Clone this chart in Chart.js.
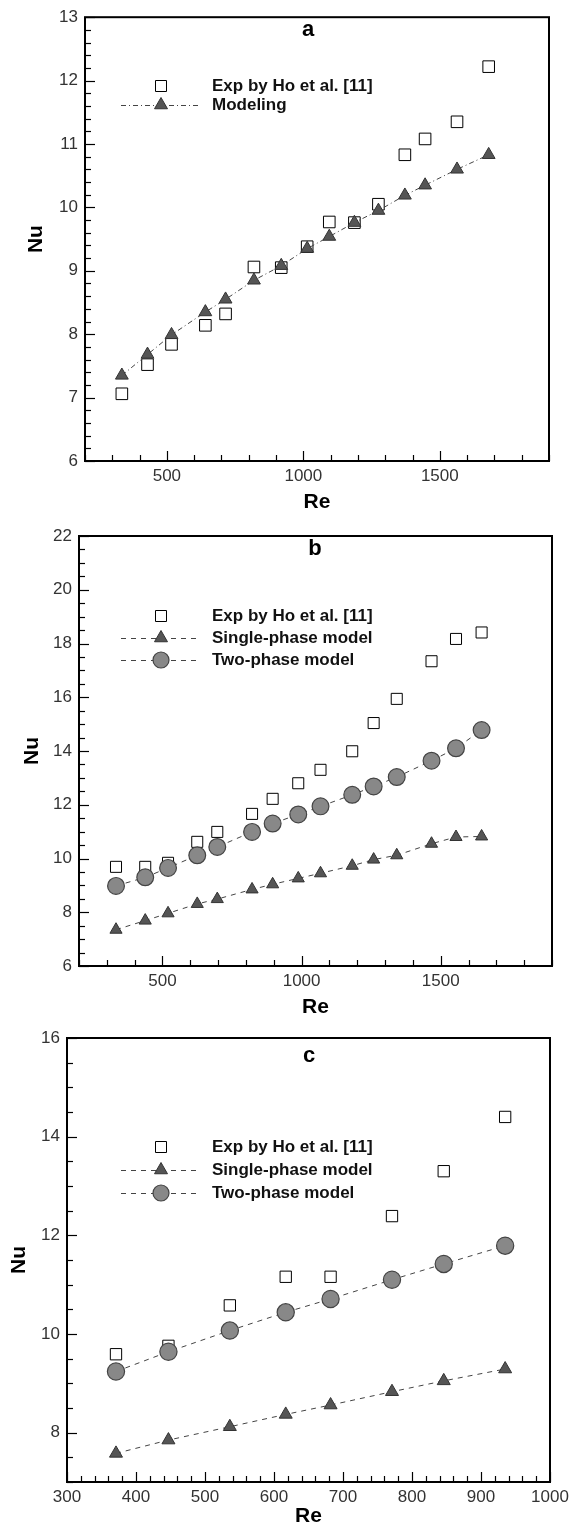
<!DOCTYPE html>
<html>
<head>
<meta charset="utf-8">
<script src="https://cdn.jsdelivr.net/npm/chart.js@4.4.0/dist/chart.umd.min.js"></script>
<style>
  html, body { margin: 0; padding: 0; background: #fff; }
  #wrap { position: relative; width: 576px; height: 1529px; overflow: hidden; }
  canvas { position: absolute; left: 0; }
</style>
</head>
<body>
<div id="wrap">
  <canvas id="chartA" width="576" height="515" style="top:0px"></canvas>
  <canvas id="chartB" width="576" height="505" style="top:515px"></canvas>
  <canvas id="chartC" width="576" height="509" style="top:1020px"></canvas>
</div>
<script>
// panel a
const reA = [335, 429, 517, 641, 715, 819, 919, 1014, 1095, 1187, 1275, 1372, 1446, 1563, 1679];
const nuExpA = [7.06, 7.52, 7.84, 8.14, 8.32, 9.06, 9.05, 9.38, 9.77, 9.76, 10.05, 10.83, 11.08, 11.35, 12.22];
const nuModelA = [7.35, 7.68, 7.99, 8.35, 8.55, 8.85, 9.08, 9.35, 9.54, 9.76, 9.95, 10.19, 10.35, 10.60, 10.83];

// panel b
const reB = [333, 438, 520, 625, 697, 822, 896, 988, 1068, 1182, 1259, 1342, 1467, 1555, 1647];
const nuExpB = [9.69, 9.69, 9.84, 10.62, 10.99, 11.66, 12.22, 12.80, 13.30, 13.99, 15.04, 15.94, 17.34, 18.17, 18.41];
const nuSingleB = [7.35, 7.69, 7.96, 8.31, 8.49, 8.85, 9.04, 9.26, 9.45, 9.73, 9.96, 10.12, 10.55, 10.80, 10.82];
const nuTwoB = [8.98, 9.30, 9.65, 10.12, 10.43, 10.99, 11.30, 11.64, 11.94, 12.37, 12.68, 13.03, 13.64, 14.10, 14.78];

// panel c
const reC = [371, 447, 536, 617, 682, 771, 846, 935];
const nuExpC = [9.59, 9.76, 10.58, 11.16, 11.16, 12.39, 13.30, 14.40];
const nuSingleC = [7.58, 7.85, 8.12, 8.37, 8.56, 8.83, 9.05, 9.29];
const nuTwoC = [9.24, 9.64, 10.07, 10.44, 10.71, 11.10, 11.42, 11.79];

const labelExp = 'Exp by Ho et al. [11]';
const labelModel = 'Modeling';
const labelSingle = 'Single-phase model';
const labelTwo = 'Two-phase model';

const FONT = "'Liberation Sans', Arial, sans-serif";
const DASH_DOT = [5, 3, 1, 3];
const DASHED = [5, 5];

function pts(xs, ys) {
  return xs.map((x, i) => ({ x: x, y: ys[i] }));
}

function isMajor(v, m) {
  return Math.abs(v / m - Math.round(v / m)) < 1e-6;
}

// square / triangle / circle marker styles
const styleExp = { pointStyle: 'rect', pointBackgroundColor: '#fff', pointBorderColor: '#000', pointBorderWidth: 1, showLine: false };
const styleTri = { pointStyle: 'triangle', pointBackgroundColor: '#555', pointBorderColor: '#333', pointBorderWidth: 1, showLine: true, borderColor: '#444', borderWidth: 1 };
const styleCirc = { pointStyle: 'circle', pointBackgroundColor: '#888', pointBorderColor: '#444', pointBorderWidth: 1.2, showLine: true, borderColor: '#444', borderWidth: 1 };

function drawMarker(ctx, kind, x, y, r) {
  ctx.save();
  ctx.setLineDash([]);
  ctx.beginPath();
  if (kind === 'rect') {
    ctx.rect(x - r, y - r, 2 * r, 2 * r);
    ctx.fillStyle = '#fff'; ctx.strokeStyle = '#000'; ctx.lineWidth = 1;
  } else if (kind === 'triangle') {
    ctx.moveTo(x, y - r);
    ctx.lineTo(x + r * 0.866, y + r / 2);
    ctx.lineTo(x - r * 0.866, y + r / 2);
    ctx.closePath();
    ctx.fillStyle = '#555'; ctx.strokeStyle = '#333'; ctx.lineWidth = 1;
  } else {
    ctx.arc(x, y, r, 0, Math.PI * 2);
    ctx.fillStyle = '#888'; ctx.strokeStyle = '#444'; ctx.lineWidth = 1.2;
  }
  ctx.fill();
  ctx.stroke();
  ctx.restore();
}

// frame, inward ticks, panel letter and legend
const decor = {
  id: 'decor',
  afterDraw(chart, args, opts) {
    const ctx = chart.ctx, a = chart.chartArea;
    const xs = chart.scales.x, ys = chart.scales.y;
    ctx.save();
    ctx.strokeStyle = '#000';
    ctx.lineWidth = 1.2;
    xs.ticks.forEach(t => {
      const px = Math.round(xs.getPixelForValue(t.value)) + 0.5;
      const len = t.label ? 10 : 6;
      ctx.beginPath(); ctx.moveTo(px, a.bottom); ctx.lineTo(px, a.bottom - len); ctx.stroke();
    });
    ys.ticks.forEach(t => {
      const py = Math.round(ys.getPixelForValue(t.value)) + 0.5;
      const len = t.label ? 10 : 6;
      ctx.beginPath(); ctx.moveTo(a.left, py); ctx.lineTo(a.left + len, py); ctx.stroke();
    });
    ctx.lineWidth = 2;
    ctx.strokeRect(a.left, a.top, a.right - a.left, a.bottom - a.top);

    ctx.fillStyle = '#000';
    ctx.font = 'bold 22px ' + FONT;
    ctx.textAlign = 'center';
    ctx.textBaseline = 'middle';
    ctx.fillText(opts.letter, opts.letterX, opts.letterY);

    ctx.font = 'bold 17px ' + FONT;
    ctx.textAlign = 'left';
    opts.items.forEach((it, i) => {
      const y = opts.rows[i];
      if (it.dash) {
        ctx.save();
        ctx.strokeStyle = '#444';
        ctx.lineWidth = 1;
        ctx.setLineDash(it.dash);
        ctx.beginPath(); ctx.moveTo(121, y + 0.5); ctx.lineTo(198, y + 0.5); ctx.stroke();
        ctx.restore();
      }
      drawMarker(ctx, it.marker, 161, y, it.size);
      ctx.fillStyle = '#111';
      ctx.fillText(it.label, 212, y);
    });
    ctx.restore();
  }
};

function makePanel(id, p) {
  new Chart(document.getElementById(id), {
    type: 'scatter',
    data: { datasets: p.datasets },
    options: {
      responsive: false,
      animation: false,
      events: [],
      layout: { padding: { top: p.top, right: p.right, left: 0, bottom: 0 } },
      plugins: {
        legend: { display: false },
        tooltip: { enabled: false },
        decor: p.decor
      },
      scales: {
        x: {
          type: 'linear', min: p.xMin, max: p.xMax,
          grid: { display: false, drawTicks: false },
          border: { display: false },
          ticks: {
            stepSize: p.xStep, autoSkip: false, maxRotation: 0, padding: 5, color: '#333',
            font: { family: FONT, size: 17 },
            callback: v => isMajor(v, p.xMajor) ? String(Math.round(v)) : ''
          },
          title: { display: true, text: 'Re', color: '#000', font: { family: FONT, size: 21, weight: 'bold' }, padding: { top: p.xTitlePad, bottom: 0 } },
          afterFit: s => { s.height = p.xHeight; }
        },
        y: {
          type: 'linear', min: p.yMin, max: p.yMax,
          grid: { display: false, drawTicks: false },
          border: { display: false },
          ticks: {
            stepSize: p.yStep, autoSkip: false, padding: 7, color: '#333',
            font: { family: FONT, size: 17 },
            callback: v => isMajor(v, p.yMajor) ? String(Math.round(v)) : ''
          },
          title: { display: true, text: 'Nu', color: '#000', font: { family: FONT, size: 21, weight: 'bold' }, padding: { top: p.yTitlePad, bottom: 0 } },
          afterFit: s => { s.width = p.yWidth; }
        }
      }
    },
    plugins: [decor]
  });
}

makePanel('chartA', {
  top: 11, right: 27, xHeight: 54, yWidth: 85, xTitlePad: 4, yTitlePad: 24,
  xMin: 200, xMax: 1900, xStep: 100, xMajor: 500,
  yMin: 6, yMax: 13, yStep: 0.2, yMajor: 1,
  datasets: [
    Object.assign({ label: labelModel, data: pts(reA, nuModelA), pointRadius: 7.4, borderDash: DASH_DOT }, styleTri),
    Object.assign({ label: labelExp, data: pts(reA, nuExpA), pointRadius: 8.2 }, styleExp)
  ],
  decor: {
    letter: 'a', letterX: 308, letterY: 30, rows: [86, 105],
    items: [
      { label: labelExp, marker: 'rect', size: 5.5 },
      { label: labelModel, marker: 'triangle', size: 7.5, dash: DASH_DOT }
    ]
  }
});

makePanel('chartB', {
  top: 21, right: 24, xHeight: 54, yWidth: 79, xTitlePad: 8, yTitlePad: 20,
  xMin: 200, xMax: 1900, xStep: 100, xMajor: 500,
  yMin: 6, yMax: 22, yStep: 0.5, yMajor: 2,
  datasets: [
    Object.assign({ label: labelTwo, data: pts(reB, nuTwoB), pointRadius: 8.4, borderDash: DASHED }, styleCirc),
    Object.assign({ label: labelSingle, data: pts(reB, nuSingleB), pointRadius: 7, borderDash: DASHED }, styleTri),
    Object.assign({ label: labelExp, data: pts(reB, nuExpB), pointRadius: 7.8 }, styleExp)
  ],
  decor: {
    letter: 'b', letterX: 315, letterY: 34, rows: [101, 123, 145],
    items: [
      { label: labelExp, marker: 'rect', size: 5.5 },
      { label: labelSingle, marker: 'triangle', size: 7.5, dash: DASHED },
      { label: labelTwo, marker: 'circle', size: 8, dash: DASHED }
    ]
  }
});

makePanel('chartC', {
  top: 18, right: 26, xHeight: 47, yWidth: 67, xTitlePad: 0, yTitlePad: 7,
  xMin: 300, xMax: 1000, xStep: 20, xMajor: 100,
  yMin: 7, yMax: 16, yStep: 0.5, yMajor: 2,
  datasets: [
    Object.assign({ label: labelTwo, data: pts(reC, nuTwoC), pointRadius: 8.6, borderDash: DASHED }, styleCirc),
    Object.assign({ label: labelSingle, data: pts(reC, nuSingleC), pointRadius: 7.5, borderDash: DASHED }, styleTri),
    Object.assign({ label: labelExp, data: pts(reC, nuExpC), pointRadius: 8 }, styleExp)
  ],
  decor: {
    letter: 'c', letterX: 309, letterY: 36, rows: [127, 150, 173],
    items: [
      { label: labelExp, marker: 'rect', size: 5.5 },
      { label: labelSingle, marker: 'triangle', size: 7.5, dash: DASHED },
      { label: labelTwo, marker: 'circle', size: 8, dash: DASHED }
    ]
  }
});
</script>
</body>
</html>
